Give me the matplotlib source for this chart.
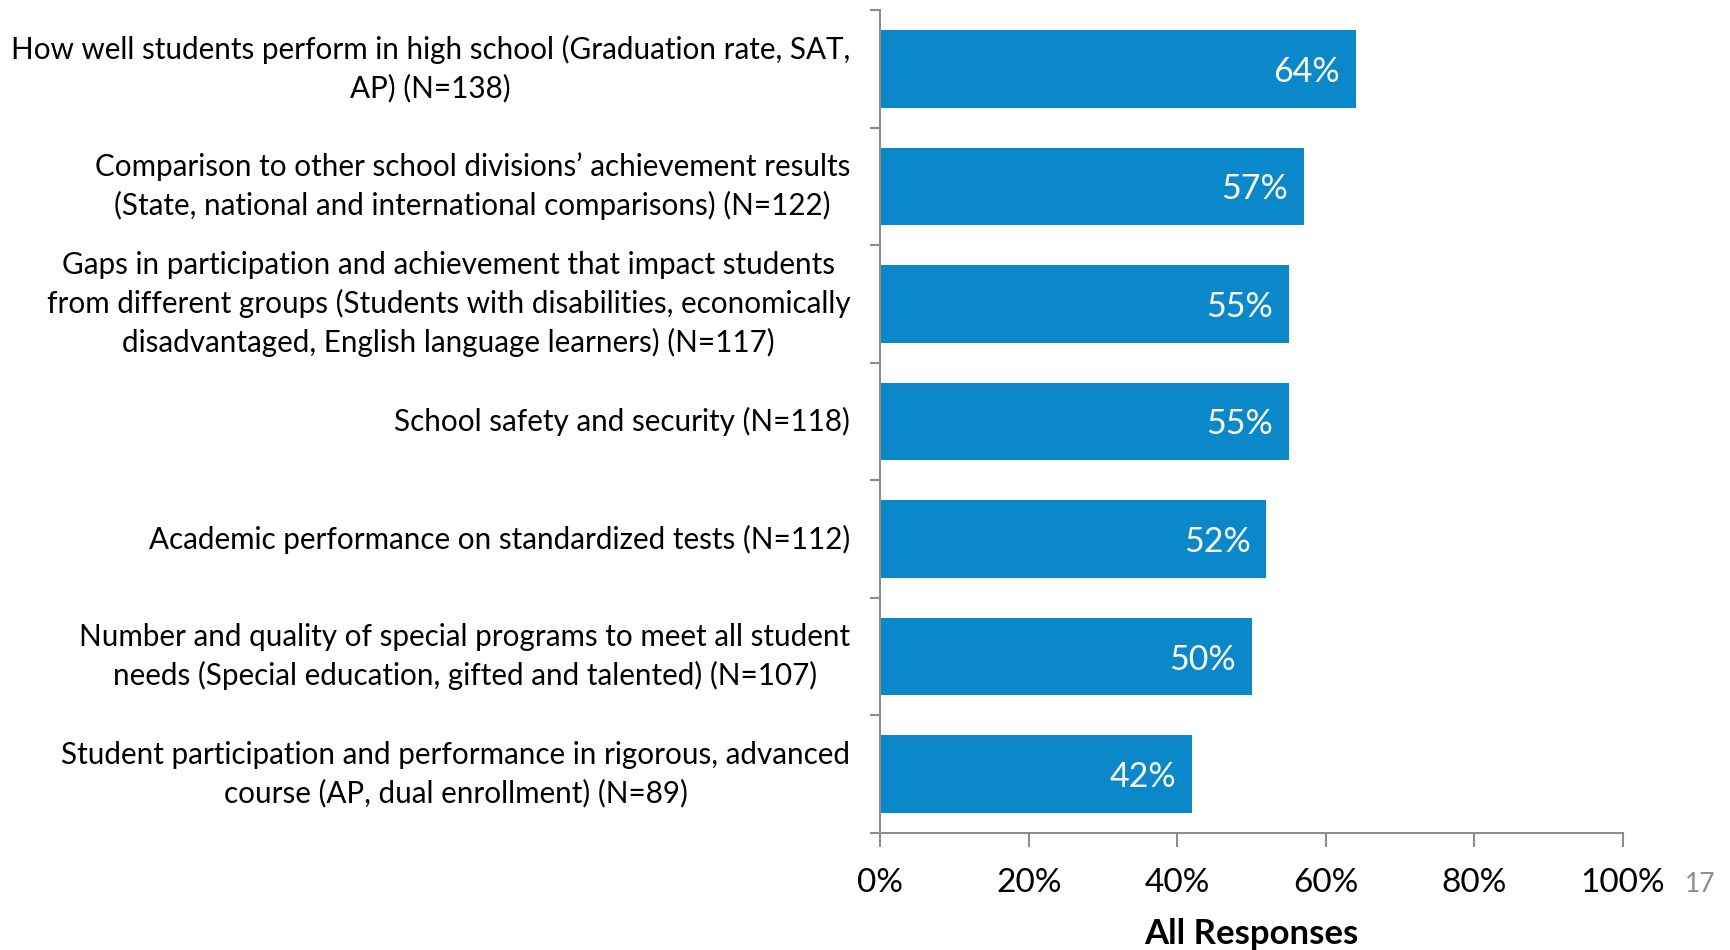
import matplotlib.pyplot as plt
from matplotlib.ticker import PercentFormatter

plt.rcParams['font.family'] = ['Lato', 'DejaVu Sans']

categories = [
    "How well students perform in high school (Graduation rate, SAT,\nAP) (N=138)",
    "Comparison to other school divisions\u2019 achievement results\n(State, national and international comparisons) (N=122)",
    "Gaps in participation and achievement that impact students\nfrom different groups (Students with disabilities, economically\ndisadvantaged, English language learners) (N=117)",
    "School safety and security (N=118)",
    "Academic performance on standardized tests (N=112)",
    "Number and quality of special programs to meet all student\nneeds (Special education, gifted and talented) (N=107)",
    "Student participation and performance in rigorous, advanced\ncourse (AP, dual enrollment) (N=89)",
]
values = [64, 57, 55, 55, 52, 50, 42]
xticks = [0, 20, 40, 60, 80, 100]

bar_color = '#0A88C9'
spine_color = '#8C8C8C'

fig = plt.figure(figsize=(17.31, 9.5), dpi=100)
ax = fig.add_axes([0.5084, 0.1232, 0.4292, 0.8663])

y = list(range(len(values)))
bars = ax.barh(y, values, height=0.66, color=bar_color)
ax.set_ylim(len(values) - 0.5, -0.5)
ax.set_xlim(0, 100)

for b, v in zip(bars, values):
    ax.text(b.get_width() - 2.1, b.get_y() + b.get_height() / 2, f"{v}%",
            ha='right', va='center_baseline', color='white', fontsize=24.5)

# category labels, right-aligned block with centred lines
for i, lab in enumerate(categories):
    ax.text(-0.04, i, lab, transform=ax.get_yaxis_transform(), ha='right', va='center',
            multialignment='center', fontsize=21.3, linespacing=1.42)

ax.set_yticks([i - 0.5 for i in range(len(values) + 1)])
ax.set_yticklabels([])
ax.tick_params(axis='y', direction='out', length=7, color=spine_color, width=1.5)

ax.set_xticks(xticks)
ax.xaxis.set_major_formatter(PercentFormatter(decimals=0))
ax.tick_params(axis='x', direction='out', length=10, color=spine_color, width=1.5,
               labelsize=24, pad=15)

for s in ['top', 'right']:
    ax.spines[s].set_visible(False)
for s in ['left', 'bottom']:
    ax.spines[s].set_color(spine_color)
    ax.spines[s].set_linewidth(1.5)

fig.text(1251 / 1731, 1 - 934 / 950, "All Responses", ha='center', va='center',
         fontsize=25, fontweight='bold')
fig.text(1700 / 1731, 1 - 884 / 950, "17", ha='center', va='center',
         fontsize=19, color='#8C8C8C')

fig.savefig('out.png', dpi=100)
